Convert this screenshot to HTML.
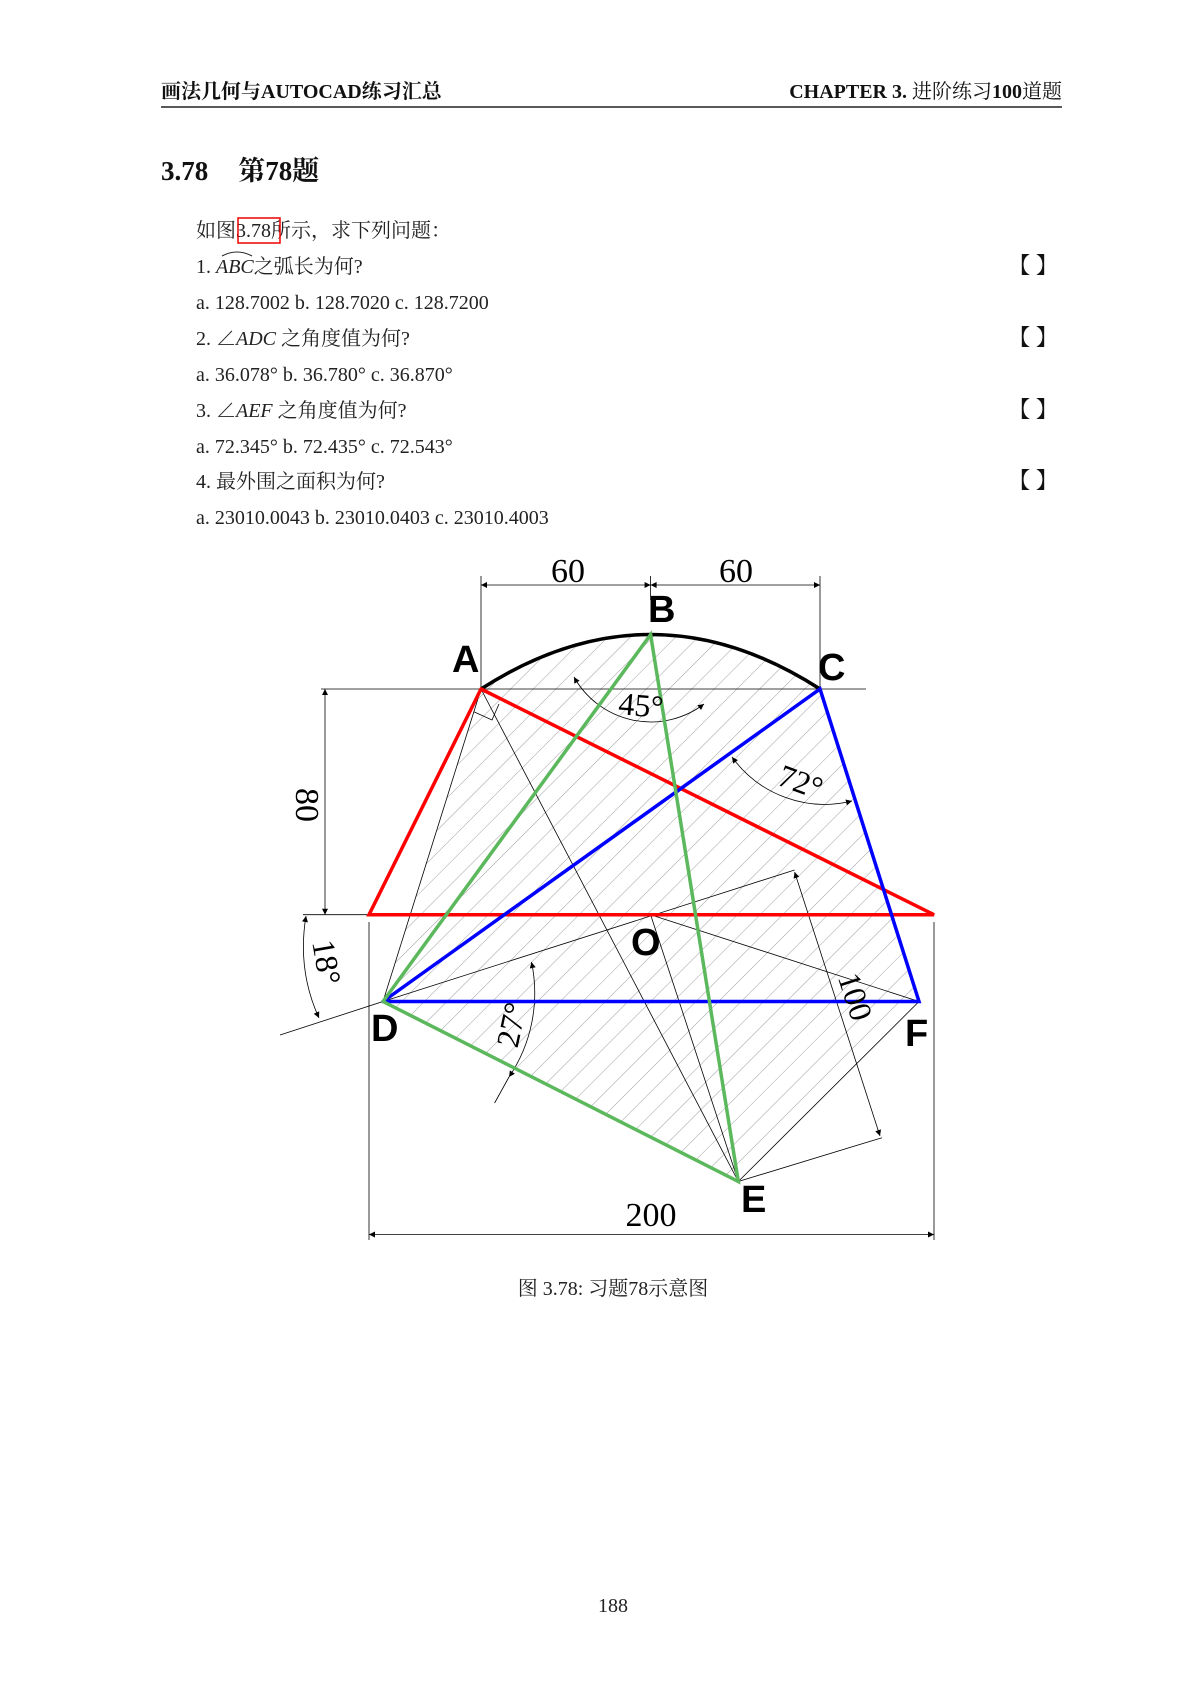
<!DOCTYPE html>
<html><head><meta charset="utf-8"><style>
html,body{margin:0;padding:0;background:#fff;}
svg{display:block;}
.t{font-family:"Liberation Serif","Noto Serif CJK SC","Noto Sans CJK SC",serif;font-size:20px;fill:#222;}
.h{font-family:"Liberation Serif","Noto Serif CJK SC","Noto Sans CJK SC",serif;font-weight:bold;font-size:20px;fill:#111;}
.lab{font-family:"Liberation Sans",sans-serif;font-weight:bold;font-size:38px;fill:#000;}
.num{font-family:"Liberation Serif",serif;font-size:34px;fill:#000;}
</style></head><body>
<svg width="1200" height="1696" viewBox="0 0 1200 1696" xmlns="http://www.w3.org/2000/svg">
<defs>
<pattern id="hat" width="16" height="16" patternUnits="userSpaceOnUse" patternTransform="rotate(45)">
<line x1="0" y1="0" x2="0" y2="16" stroke="#777" stroke-width="0.7"/>
</pattern>
<marker id="ar" viewBox="0 0 10 10" refX="10" refY="5" markerWidth="14" markerHeight="6" markerUnits="userSpaceOnUse" orient="auto-start-reverse">
<path d="M0,0 L10,5 L0,10 z" fill="#000"/>
</marker>
</defs>

<text class="h" x="161" y="98">画法几何与AUTOCAD练习汇总</text>
<text class="h" x="1062" y="98" text-anchor="end">CHAPTER 3.  <tspan font-weight="normal">进阶练习</tspan>100<tspan font-weight="normal">道题</tspan></text>
<line x1="161" y1="107" x2="1062" y2="107" stroke="#222" stroke-width="1.5"/>

<text class="h" x="161" y="180" style="font-size:27px">3.78<tspan dx="30">第78题</tspan></text>

<text class="t" x="196" y="237">如图<tspan fill="#222">3.78</tspan>所示，求下列问题：</text>
<rect x="238" y="218" width="42" height="25" fill="none" stroke="#e00" stroke-width="1.5"/>
<text class="t" x="196" y="273">1. <tspan font-style="italic">ABC</tspan>之弧长为何?</text>
<path d="M222,256 Q237,248 252,256" fill="none" stroke="#222" stroke-width="1"/>
<text class="t" x="196" y="309">a. 128.7002 b. 128.7020 c. 128.7200</text>
<text class="t" x="196" y="345">2. ∠<tspan font-style="italic">ADC</tspan> 之角度值为何?</text>
<text class="t" x="196" y="381">a. 36.078° b. 36.780° c. 36.870°</text>
<text class="t" x="196" y="417">3. ∠<tspan font-style="italic">AEF</tspan> 之角度值为何?</text>
<text class="t" x="196" y="453">a. 72.345° b. 72.435° c. 72.543°</text>
<text class="t" x="196" y="488">4. 最外围之面积为何?</text>
<text class="t" x="196" y="524">a. 23010.0043 b. 23010.0403 c. 23010.4003</text>
<g class="h" style="font-size:22px">
<text x="1008" y="273">【</text><text x="1036" y="273">】</text>
<text x="1008" y="345">【</text><text x="1036" y="345">】</text>
<text x="1008" y="417">【</text><text x="1036" y="417">】</text>
<text x="1008" y="488">【</text><text x="1036" y="488">】</text>
</g>

<path d="M481,689 Q650.6,580 820,689 L919,1001.5 L738.3,1181.5 L383,1001.5 Z" fill="url(#hat)"/>

<g stroke="#000" stroke-width="0.8" fill="none">
<line x1="321" y1="689" x2="866" y2="689"/>
<line x1="303" y1="914.7" x2="369" y2="914.7"/>
<line x1="481" y1="689" x2="383" y2="1001.5"/>
<line x1="481" y1="689" x2="738.3" y2="1181.5"/>
<line x1="650.6" y1="914.7" x2="738.3" y2="1181.5"/>
<line x1="650.6" y1="914.7" x2="919" y2="1001.5"/>
<line x1="383" y1="1001.5" x2="794.6" y2="870"/>
<line x1="919" y1="1001.5" x2="738.3" y2="1181.5"/>
<line x1="738.3" y1="1181.5" x2="882" y2="1137.7"/>
<line x1="383" y1="1001.5" x2="280" y2="1035"/>
<polyline points="473.8,711.7 492,720 499,704"/>
<line x1="481" y1="576" x2="481" y2="689"/>
<line x1="820" y1="576" x2="820" y2="689"/>
<line x1="650.6" y1="576" x2="650.6" y2="600"/>
<line x1="369" y1="922" x2="369" y2="1240"/>
<line x1="934" y1="922" x2="934" y2="1240"/>
<line x1="481" y1="585" x2="650.6" y2="585" marker-start="url(#ar)" marker-end="url(#ar)"/>
<line x1="650.6" y1="585" x2="820" y2="585" marker-start="url(#ar)" marker-end="url(#ar)"/>
<line x1="325" y1="689" x2="325" y2="914.7" marker-start="url(#ar)" marker-end="url(#ar)"/>
<line x1="369" y1="1234.5" x2="934" y2="1234.5" marker-start="url(#ar)" marker-end="url(#ar)"/>
<line x1="794.6" y1="872" x2="880" y2="1136" marker-start="url(#ar)" marker-end="url(#ar)"/>
<path d="M574,677 A88 88 0 0 0 704,704" marker-start="url(#ar)" marker-end="url(#ar)"/>
<path d="M732,757 A114 114 0 0 0 852,801" marker-start="url(#ar)" marker-end="url(#ar)"/>
<path d="M306,916 Q297,970 319,1018" marker-start="url(#ar)" marker-end="url(#ar)"/>
<path d="M531.5,962 A150 150 0 0 1 509,1077" marker-start="url(#ar)" marker-end="url(#ar)"/>
<line x1="509" y1="1077" x2="494.6" y2="1103"/>
</g>

<path d="M481,689 Q650.6,580 820,689" fill="none" stroke="#000" stroke-width="3.5"/>
<g stroke-width="3.5" fill="none" stroke-linecap="round">
<polyline points="481,689 369,914.7 934,914.7 481,689" stroke="#f00"/>
<polyline points="383,1001.5 820,689 919,1001.5 383,1001.5" stroke="#00f"/>
<polyline points="383,1001.5 650.6,634.6 738.3,1181.5 383,1001.5" stroke="#5cb85c"/>
</g>

<g class="lab">
<text x="452" y="672">A</text>
<text x="648" y="622">B</text>
<text x="818" y="680">C</text>
<text x="631" y="955">O</text>
<text x="371" y="1041">D</text>
<text x="905" y="1046">F</text>
<text x="741" y="1212">E</text>
</g>
<g class="num">
<text x="568" y="582" text-anchor="middle">60</text>
<text x="736" y="582" text-anchor="middle">60</text>
<text x="651" y="1226" text-anchor="middle">200</text>
<text transform="translate(296,805) rotate(90)" text-anchor="middle">80</text>
<text transform="translate(845,1000) rotate(72)" text-anchor="middle" style="font-size:32px">100</text>
<text transform="translate(640,716) rotate(5)" text-anchor="middle" style="font-size:32px">45°</text>
<text transform="translate(797,792) rotate(20)" text-anchor="middle" style="font-size:32px">72°</text>
<text transform="translate(316,964) rotate(80)" text-anchor="middle" style="font-size:32px">18°</text>
<text transform="translate(522,1027) rotate(-78)" text-anchor="middle" style="font-size:32px">27°</text>
</g>

<text class="t" x="613" y="1295" text-anchor="middle">图 3.78: 习题78示意图</text>
<text class="t" x="613" y="1612" text-anchor="middle">188</text>
</svg>
</body></html>
